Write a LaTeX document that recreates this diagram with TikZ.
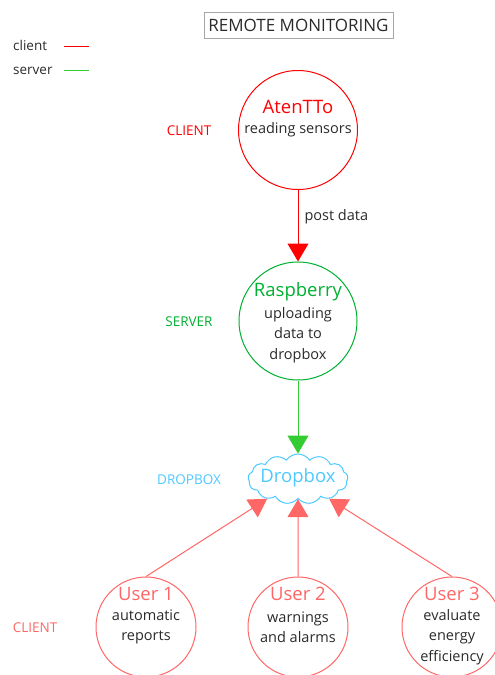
\documentclass[tikz,border=0pt]{standalone}
\usepackage{fontspec}
\setmainfont{Open Sans}
\usetikzlibrary{arrows.meta,shapes.symbols}
\definecolor{cred}{HTML}{FF0000}
\definecolor{cgreen}{HTML}{00B030}
\definecolor{lgreen}{HTML}{33CC33}
\definecolor{cblue}{HTML}{4DC9FF}
\definecolor{cpink}{HTML}{FF6666}
\definecolor{ctext}{HTML}{2A2A2A}
\tikzset{
  circ/.style={circle, draw, line width=1pt, minimum size=#1, inner sep=0pt},
  txt/.style={text=ctext, font=\fontsize{14.5}{20.5}\selectfont, align=center, inner sep=0pt},
  head/.style={text=#1, font=\fontsize{18.5}{20}\selectfont, inner sep=0pt},
  side/.style={text=#1, font=\fontsize{13.5}{16}\selectfont, inner sep=0pt},
  conn/.style={line width=1pt, -{Triangle[width=21pt,length=18pt]}},
}
\begin{document}
\begin{tikzpicture}[x=1pt,y=-1pt]
\useasboundingbox (0,0) rectangle (495,675);
% title
\node[draw=black!35, line width=0.8pt, text=ctext, font=\fontsize{17}{20}\selectfont, minimum width=189, minimum height=26, inner sep=0pt] (title) at (298.5,25) {REMOTE MONITORING};
% legend
\node[side=ctext, anchor=west] (lc) at (13,45) {client};
\node[side=ctext, anchor=west] (ls) at (13,71) {server};
\coordinate (lc1) at (64,46.5); \coordinate (lc2) at (89,46.5);
\coordinate (ls1) at (64,70.5); \coordinate (ls2) at (89,70.5);
\draw[cred, line width=1.2pt] (lc1) -- (lc2);
\draw[lgreen, line width=1.2pt] (ls1) -- (ls2);
% AtenTTo
\node[circ=119, draw=cred] (aten) at (298,130) {};
\node[head=cred] (atenT) at (298,107) {AtenTTo};
\node[txt] (atenD) at (298,130) {reading sensors};
\node[side=cred] (lcl) at (189,131) {CLIENT};
% Raspberry
\node[circ=118, draw=cgreen] (rasp) at (298,321) {};
\node[head=cgreen] (raspT) at (298,292) {Raspberry};
\node[txt] (raspD) at (298,335) {uploading\\data to\\dropbox};
\node[side=cgreen] (lsv) at (189,322) {SERVER};
% Dropbox
\node[cloud, cloud puffs=13, cloud puff arc=110, aspect=2.2, draw=cblue, line width=1pt, minimum width=100, minimum height=50, inner sep=0pt] (cloud) at (298,479) {};
\node[head=cblue] (cloudT) at (298,478) {Dropbox};
\node[side=cblue] (ldb) at (189,480) {DROPBOX};
% users
\node[circ=100, draw=cpink] (u1) at (146,627) {};
\node[head=cpink] (u1T) at (146,594) {User 1};
\node[txt] (u1D) at (146,627) {automatic\\reports};
\node[circ=100, draw=cpink] (u2) at (298,627) {};
\node[head=cpink] (u2T) at (298,594) {User 2};
\node[txt] (u2D) at (298,627) {warnings\\and alarms};
\node[circ=100, draw=cpink] (u3) at (452,627) {};
\node[head=cpink] (u3T) at (452,594) {User 3};
\node[txt] (u3D) at (452,637) {evaluate\\energy\\efficiency};
\node[side=cpink] (lcl2) at (35,628) {CLIENT};
% connectors
\draw[conn, cred] (aten) -- (rasp) node[pos=0.37, right=6pt, txt] (pd) {post data};
\draw[conn, lgreen] (rasp) -- (cloud);
\draw[conn, cpink] (u1.north) -- (cloud);
\draw[conn, cpink] (u2.north) -- (cloud);
\draw[conn, cpink] (u3.north) -- (cloud);
\end{tikzpicture}
\end{document}
